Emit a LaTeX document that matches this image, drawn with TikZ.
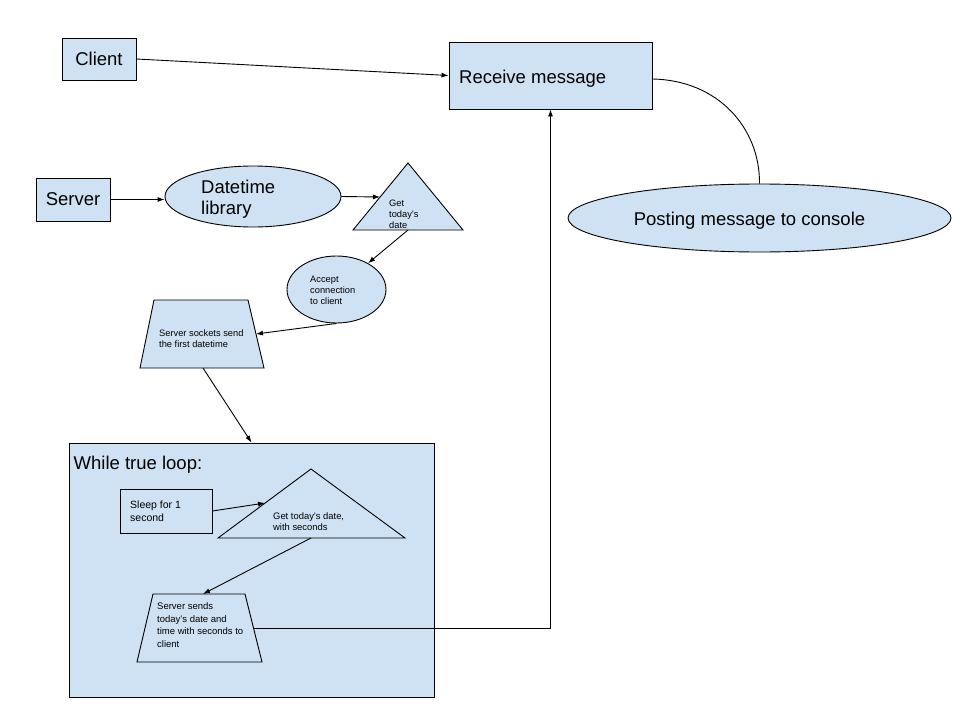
\documentclass[tikz,border=0pt]{standalone}
\usepackage{fontspec}
\setmainfont{Liberation Sans}
\usetikzlibrary{arrows.meta,shapes.geometric}
\definecolor{fillblue}{HTML}{CFE2F3}
\begin{document}
\begin{tikzpicture}[x=1pt,y=-1pt,
  shp/.style={draw=black, fill=fillblue, line width=0.9pt, inner sep=0pt},
  big/.style={font=\fontsize{18.5}{21.5}\selectfont},
  small/.style={font=\fontsize{9.3}{11}\selectfont},
  mid/.style={font=\fontsize{9.5}{12.5}\selectfont},
  conn/.style={draw=black, line width=0.9pt, -{Latex[length=7pt,width=5pt]}},
  txt/.style={inner sep=0pt, align=left, anchor=west, text=black}
]
\useasboundingbox[fill=white] (0,0) rectangle (960,720);

% top: client and receiver
\node[shp, rectangle, minimum width=74pt, minimum height=42pt, big] (client) at (99,59) {Client};
\node[shp, rectangle, minimum width=203pt, minimum height=67pt] (recv) at (550.5,75.5) {};
\node[txt, big] (recvt) at (459,79) {Receive message};
\node[shp, ellipse, minimum width=383pt, minimum height=68pt] (post) at (759.5,218) {};
\node[inner sep=0pt, big] (postt) at (749.5,221) {Posting message to console};

% server chain
\node[shp, rectangle, minimum width=74pt, minimum height=43pt, big] (server) at (73,199.5) {Server};
\node[shp, ellipse, minimum width=176pt, minimum height=61pt] (dt) at (253,196.5) {};
\node[txt, big] (dtt) at (201,199) {Datetime\\library};

\draw[shp] (408,163) -- (463,230) -- (353,230) -- cycle;
\node[txt, small] (tri1) at (389,214) {Get\\today's\\date};
\coordinate (t1in) at (380,197);
\coordinate (t1base) at (408,230);

\node[shp, ellipse, minimum width=99pt, minimum height=67pt] (acc) at (336.5,289.5) {};
\node[txt, small] (acct) at (310,290) {Accept\\connection\\to client};

\draw[shp] (154,300) -- (248,300) -- (264,368) -- (140,368) -- cycle;
\node[txt, small] (trap1) at (159,338.5) {Server sockets send\\the first datetime};
\coordinate (tp1r) at (256,334);
\coordinate (tp1b) at (203,368);

% loop
\node[shp, rectangle, minimum width=365pt, minimum height=254pt] (loop) at (251.5,570) {};
\node[txt, big] (loopt) at (73.5,465) {While true loop:};

\node[shp, rectangle, minimum width=92pt, minimum height=44pt] (sleep) at (166,511) {};
\node[txt, font=\fontsize{10.5}{13.3}\selectfont] (sleept) at (130,511) {Sleep for 1\\second};

\draw[shp] (311,469) -- (405,538) -- (218,538) -- cycle;
\node[txt, font=\fontsize{9.4}{11.7}\selectfont] (tri2) at (273,521.5) {Get today's date,\\with seconds};
\coordinate (t2in) at (265,503);
\coordinate (t2base) at (311,538);

\draw[shp] (153,594) -- (245,594) -- (262,662) -- (137,662) -- cycle;
\node[txt, mid] (trap2) at (157,625) {Server sends\\today's date and\\time with seconds to\\client};
\coordinate (tp2top) at (203,594);
\coordinate (tp2r) at (253.5,628);
\coordinate (recvr) at (652,79);

% connectors
\draw[conn] (client.east) -- (recv.west);
\draw[draw=black, line width=0.9pt] (recvr) .. controls (718,80) and (760,128) .. (post.north);
\draw[conn] (server.east) -- (dt.west |- server.east);
\draw[conn] (dt.east) -- (t1in);
\draw[conn] (t1base) -- (acc);
\draw[conn] (acc.south) -- (tp1r);
\draw[conn] (tp1b) -- (loop.north);
\draw[conn] (sleep.east) -- (t2in);
\draw[conn] (t2base) -- (tp2top);
\draw[conn] (tp2r) -| (recv.south);
\end{tikzpicture}
\end{document}
